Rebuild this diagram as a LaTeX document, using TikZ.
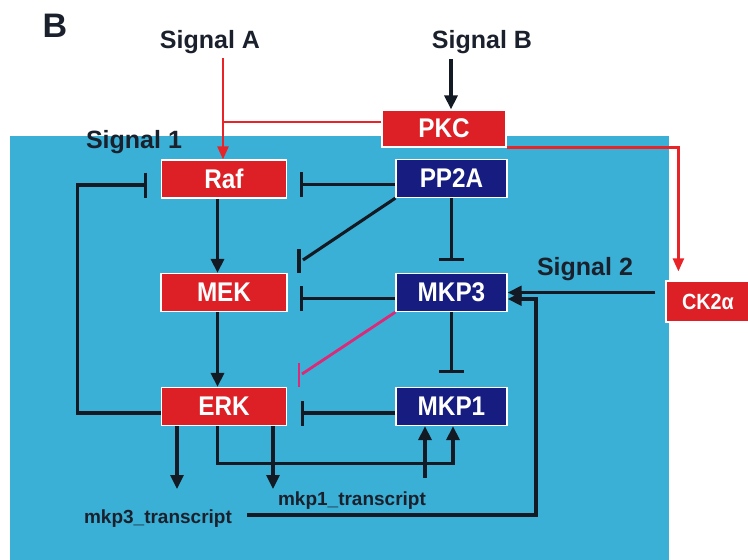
\documentclass[tikz,border=0pt]{standalone}
\usepackage{fontspec}
\setmainfont{Liberation Sans}
\newfontfamily\condfont{Liberation Sans}[FakeStretch=0.9]
\usetikzlibrary{arrows.meta,calc}
\definecolor{bgblue}{RGB}{58,176,214}
\definecolor{boxred}{RGB}{220,32,38}
\definecolor{linered}{RGB}{232,36,40}
\definecolor{boxnavy}{RGB}{22,28,128}
\definecolor{linedark}{RGB}{20,26,36}
\definecolor{txtdark}{RGB}{26,32,44}
\definecolor{pinkline}{RGB}{222,40,120}
\tikzset{
  box/.style={draw=white, line width=1.2pt, text=white, font=\condfont\bfseries\fontsize{27}{27}\selectfont, inner sep=0pt, minimum height=38pt},
  redbox/.style={box, fill=boxred},
  bluebox/.style={box, fill=boxnavy},
  lbl/.style={text=txtdark, font=\bfseries\fontsize{25}{25}\selectfont, inner sep=0pt, anchor=base},
  smalllbl/.style={text=txtdark, font=\bfseries\fontsize{19}{19}\selectfont, inner sep=0pt, anchor=base},
  act/.style={draw=linedark, line width=3.1pt, -{Triangle[width=13pt,length=14pt]}},
  redact/.style={draw=linered, line width=2.4pt, -{Triangle[width=11pt,length=13pt]}},
  redline/.style={draw=linered, line width=2.4pt},
  inh/.style={draw=linedark, line width=3.1pt, -{Bar[width=25pt,line width=3.1pt]}},
  inhline/.style={draw=linedark, line width=3.1pt},
  pinkinh/.style={draw=pinkline, line width=2.8pt},
}
\begin{document}
\begin{tikzpicture}[x=1pt,y=-1pt]
\useasboundingbox (0,0) rectangle (748,560);
\fill[bgblue] (10,136) rectangle (669,560);

% boxes
\node[redbox, minimum width=125pt] (raf) at (224,179) {Raf};
\node[redbox, minimum width=126pt] (mek) at (224,292.5) {MEK};
\node[redbox, minimum width=125pt] (erk) at (224,406.5) {ERK};
\node[bluebox, minimum width=111pt] (pp2a) at (451.5,178.5) {PP2A};
\node[bluebox, minimum width=111pt] (mkp3) at (451.5,292.5) {MKP3};
\node[bluebox, minimum width=111pt] (mkp1) at (451.5,406.5) {MKP1};
\node[redbox, minimum width=124pt, minimum height=37pt] (pkc) at (444,128.5) {PKC};
\node[redbox, minimum width=84pt, minimum height=41pt, font=\condfont\bfseries\fontsize{22}{22}\selectfont] (ck) at (708,301.5) {CK2α};

% labels
\node[lbl, font=\bfseries\fontsize{34}{34}\selectfont] (B) at (55,37) {B};
\node[lbl] (sigA) at (210,48) {Signal A};
\node[lbl] (sigB) at (482,48) {Signal B};
\node[lbl] (sig1) at (134,148) {Signal 1};
\node[lbl] (sig2) at (585,275) {Signal 2};
\node[smalllbl] (t3) at (158,523) {mkp3\_transcript};
\node[smalllbl] (t1) at (352,505) {mkp1\_transcript};

% Signal A -> Raf, PKC -> junction
\coordinate (saTop) at (223,58);
\coordinate (saJ) at (223,122);
\draw[redact] (saTop) -- (raf.north -| saTop);
\draw[redline] (pkc.west |- saJ) -- (saJ);

% Signal B -> PKC
\coordinate (sbTop) at (451,59);
\draw[act] (sbTop) -- (pkc.north -| sbTop);

% PKC -> CK2a
\draw[redact, shorten >=9pt] (pkc.south east) -| ($(ck.north west)+(13,0)$);

% Signal 2: CK2a -> MKP3
\draw[act] ($(ck.west |- mkp3.east)+(-10,0)$) -- (mkp3.east);

% cascade
\draw[act] ([xshift=-6.5pt]raf.south) -- ([xshift=-6.5pt]mek.north);
\draw[act] ([xshift=-6.5pt]mek.south) -- ([xshift=-6.5pt]erk.north);

% horizontal inhibitions
\draw[inh, shorten >=13pt] ([yshift=-6pt]pp2a.west) -- ([yshift=-6pt]pp2a.west -| raf.east);
\draw[inh, shorten >=12pt] ([yshift=-6pt]mkp3.west) -- ([yshift=-6pt]mkp3.west -| mek.east);
\draw[inh, shorten >=14pt] ([yshift=-6.5pt]mkp1.west) -- ([yshift=-6.5pt]mkp1.west -| erk.east);

% vertical inhibitions
\draw[inh, shorten >=12pt] (pp2a.south) -- (mkp3.north);
\draw[inh, shorten >=14pt] (mkp3.south) -- (mkp1.north);

% diagonal inhibitions
\coordinate (d1) at (303,260);
\draw[inhline] (pp2a.south west) -- (d1);
\draw[inhline] (299,249) -- (299,273);
\coordinate (d2) at (302,374);
\draw[pinkinh] (mkp3.south west) -- (d2);
\draw[pinkinh] (299,363) -- (299,387);

% ERK feedback to Raf
\draw[inh, shorten >=14pt] ([yshift=-6.5pt]erk.west) -- ++(-83,0) |- ([yshift=-6pt]raf.west);

% ERK -> transcripts
\coordinate (e3) at (177,489);
\draw[act] (erk.south -| e3) -- (e3);
\coordinate (e1) at (273,489);
\draw[act] (erk.south -| e1) -- (e1);

% ERK -> MKP1
\draw[act] ([xshift=-6.5pt]erk.south) -- ++(0,37) -| ([xshift=1.5pt]mkp1.south);

% mkp1_transcript -> MKP1
\coordinate (t1up) at (425,478);
\draw[act] (t1up) -- (t1up |- mkp1.south);

% mkp3_transcript -> MKP3
\coordinate (l3) at (247,515);
\draw[act] (l3) -- (536,515) -- (536,299) -- (mkp3.east |- 0,299);
\end{tikzpicture}
\end{document}
